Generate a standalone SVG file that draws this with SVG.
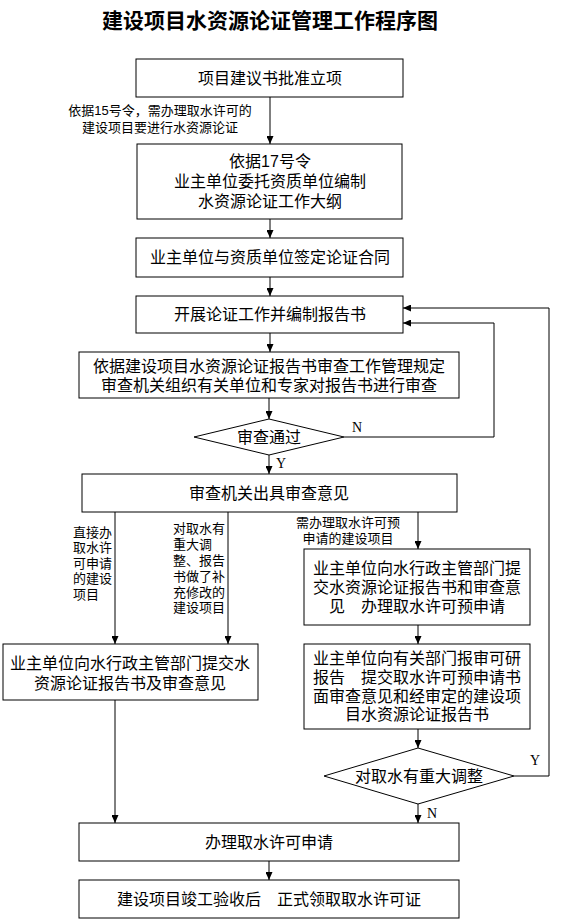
<svg xmlns="http://www.w3.org/2000/svg" width="575" height="921" viewBox="0 0 575 921">
<style>
.bx{fill:#fff;stroke:#000;stroke-width:1}
.t{font-family:"Liberation Sans","Noto Sans CJK SC",sans-serif;font-size:16px;fill:#000;text-anchor:middle;dominant-baseline:central}
.s{font-family:"Liberation Sans","Noto Sans CJK SC",sans-serif;font-size:13px;fill:#000;dominant-baseline:central}
.yn{font-family:"Liberation Serif",serif;font-size:14px;fill:#000;dominant-baseline:central}
.c{fill:none;stroke:#000;stroke-width:1}
</style>
<defs>
<marker id="ah" markerUnits="userSpaceOnUse" markerWidth="8" markerHeight="7" refX="8" refY="3.5" orient="auto">
<path d="M0,0 L8,3.5 L0,7 z" fill="#000"/>
</marker>
</defs>
<rect width="575" height="921" fill="#fff"/>
<text id="title" x="270" y="20" style="font-family:'Liberation Sans','Noto Sans CJK SC',sans-serif;font-size:21px;font-weight:bold;text-anchor:middle;dominant-baseline:central">建设项目水资源论证管理工作程序图</text>

<g id="connectors">
<path class="c" d="M270,97 V144" marker-end="url(#ah)"/>
<path class="c" d="M270,219 V238" marker-end="url(#ah)"/>
<path class="c" d="M270,277 V296" marker-end="url(#ah)"/>
<path class="c" d="M270,333 V352" marker-end="url(#ah)"/>
<path class="c" d="M269,398 V419" marker-end="url(#ah)"/>
<path class="c" d="M269,455 V474" marker-end="url(#ah)"/>
<path class="c" d="M344,437 H494 V323 H403" marker-end="url(#ah)"/>
<path class="c" d="M115,512 V644" marker-end="url(#ah)"/>
<path class="c" d="M228,512 V644" marker-end="url(#ah)"/>
<path class="c" d="M418,512 V549" marker-end="url(#ah)"/>
<path class="c" d="M418,625 V644" marker-end="url(#ah)"/>
<path class="c" d="M418,729 V748" marker-end="url(#ah)"/>
<path class="c" d="M514,776 H549 V308 H403" marker-end="url(#ah)"/>
<path class="c" d="M418,804 V823" marker-end="url(#ah)"/>
<path class="c" d="M115,700 V823" marker-end="url(#ah)"/>
<path class="c" d="M269,861 V880" marker-end="url(#ah)"/>
<text class="s" x="160" y="110" text-anchor="middle">依据15号令，需办理取水许可的</text>
<text class="s" x="160" y="127" text-anchor="middle">建设项目要进行水资源论证</text>
<text class="yn" x="352" y="427">N</text>
<text class="yn" x="276" y="463">Y</text>
<text class="s" x="73" y="532">直接办</text>
<text class="s" x="73" y="547">取水许</text>
<text class="s" x="73" y="563">可申请</text>
<text class="s" x="73" y="578">的建设</text>
<text class="s" x="73" y="594">项目</text>
<text class="s" x="173" y="528">对取水有</text>
<text class="s" x="173" y="544">重大调</text>
<text class="s" x="173" y="560">整、报告</text>
<text class="s" x="173" y="576">书做了补</text>
<text class="s" x="173" y="592">充修改的</text>
<text class="s" x="173" y="607">建设项目</text>
<text class="s" x="348" y="522" text-anchor="middle">需办理取水许可预</text>
<text class="s" x="348" y="538" text-anchor="middle">申请的建设项目</text>
<text class="yn" x="530" y="760">Y</text>
<text class="yn" x="427" y="813">N</text>
</g>

<g id="n1"><rect class="bx" x="136" y="59" width="267" height="38"/><text class="t" x="270" y="78">项目建议书批准立项</text></g>
<g id="n2"><rect class="bx" x="137" y="144" width="265" height="75"/>
<text class="t" x="270" y="161">依据17号令</text><text class="t" x="270" y="181">业主单位委托资质单位编制</text><text class="t" x="270" y="201">水资源论证工作大纲</text></g>
<g id="n3"><rect class="bx" x="136" y="238" width="267" height="39"/><text class="t" x="270" y="257.5">业主单位与资质单位签定论证合同</text></g>
<g id="n4"><rect class="bx" x="136" y="296" width="267" height="37"/><text class="t" x="270" y="314.5">开展论证工作并编制报告书</text></g>
<g id="n5"><rect class="bx" x="79" y="352" width="380" height="46"/>
<text class="t" x="269" y="366">依据建设项目水资源论证报告书审查工作管理规定</text><text class="t" x="269" y="385">审查机关组织有关单位和专家对报告书进行审查</text></g>
<g id="d1"><polygon class="bx" points="194,437 269,419 344,437 269,455"/><text class="t" x="269" y="437">审查通过</text></g>
<g id="n6"><rect class="bx" x="82" y="474" width="375" height="38"/><text class="t" x="269" y="493">审查机关出具审查意见</text></g>
<g id="n7"><rect class="bx" x="3" y="644" width="255" height="56"/>
<text class="t" x="130" y="663">业主单位向水行政主管部门提交水</text><text class="t" x="130" y="683">资源论证报告书及审查意见</text></g>
<g id="n8"><rect class="bx" x="304" y="549" width="226" height="76"/>
<text class="t" x="417" y="568">业主单位向水行政主管部门提</text><text class="t" x="417" y="587">交水资源论证报告书和审查意</text><text class="t" x="417" y="606">见　办理取水许可预申请</text></g>
<g id="n9"><rect class="bx" x="304" y="644" width="226" height="85"/>
<text class="t" x="417" y="658">业主单位向有关部门报审可研</text><text class="t" x="417" y="677">报告　提交取水许可预申请书</text><text class="t" x="417" y="696">面审查意见和经审定的建设项</text><text class="t" x="417" y="714">目水资源论证报告书</text></g>
<g id="d2"><polygon class="bx" points="324,776 418,748 514,776 418,804"/><text class="t" x="419" y="776">对取水有重大调整</text></g>
<g id="n10"><rect class="bx" x="79" y="823" width="380" height="38"/><text class="t" x="269" y="842">办理取水许可申请</text></g>
<g id="n11"><rect class="bx" x="79" y="880" width="380" height="38"/><text class="t" x="269" y="899">建设项目竣工验收后　正式领取取水许可证</text></g>
</svg>
